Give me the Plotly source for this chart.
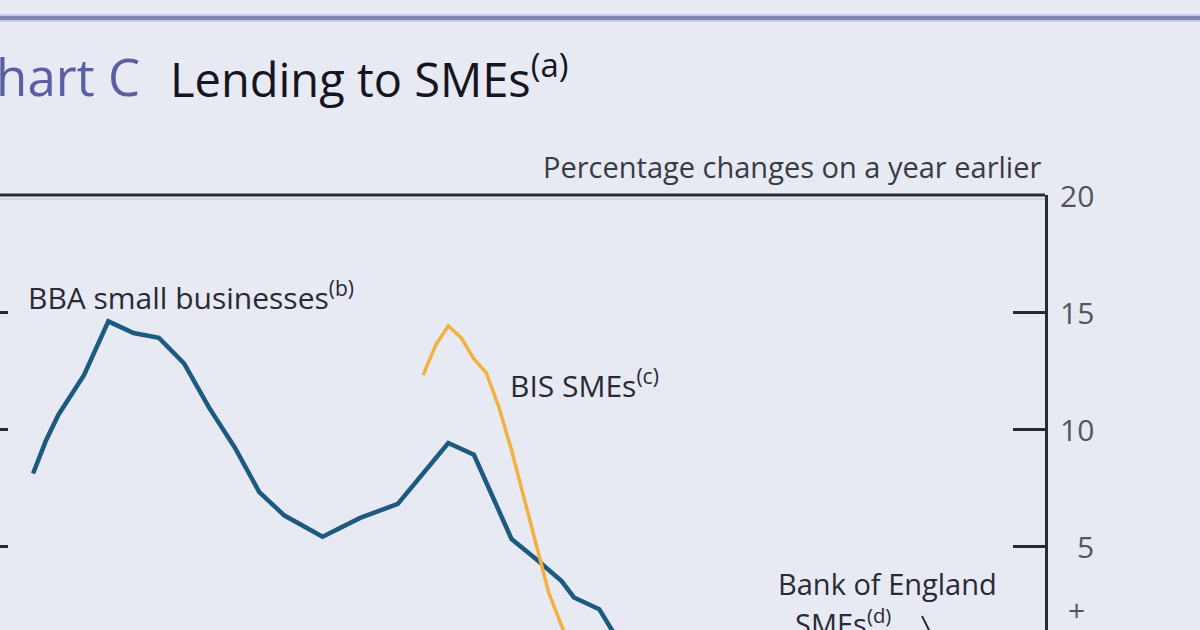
import plotly.graph_objects as go

# --- data (annual % change) ---
bba_dates = ["2005-10-01", "2005-11-01", "2005-12-01", "2006-02-01", "2006-04-01",
             "2006-06-01", "2006-08-01", "2006-10-01", "2006-12-01", "2007-02-01",
             "2007-04-01", "2007-06-01", "2007-09-01", "2007-12-01", "2008-03-01",
             "2008-07-01", "2008-09-01", "2008-12-01", "2009-02-01", "2009-04-01",
             "2009-05-01", "2009-07-01", "2009-08-01", "2009-10-01"]
bba_values = [8.1, 9.5, 10.6, 12.3, 14.6,
              14.1, 13.9, 12.8, 10.9, 9.2,
              7.3, 6.3, 5.4, 6.2, 6.8,
              9.4, 8.9, 5.3, 4.4, 3.5,
              2.8, 2.3, 1.4, 0.3]

bis_dates = ["2008-05-01", "2008-06-01", "2008-07-01", "2008-08-01", "2008-09-01",
             "2008-10-01", "2008-11-01", "2008-12-01", "2009-01-01", "2009-02-01",
             "2009-03-01", "2009-04-01", "2009-05-01"]
bis_values = [12.3, 13.6, 14.4, 13.9, 13.0,
              12.4, 10.9, 9.1, 7.0, 4.9,
              3.0, 1.6, 0.2]

y_ticks = [5, 10, 15, 20]
y_tick_labels = ["5", "10", "15", "20"]

BG = "#e7e9f3"
INK = "#2a2a36"
BLUE = "#1d5a80"
ORANGE = "#f2b13e"
FONT = "Open Sans"

# plot box in pixels: left 0, right 1045, top 195, bottom 630
W, H, TOP = 1045, 435, 195
Y_MAX = 20
Y_MIN = Y_MAX - H / 23.4


def px(x):
    return x / W


def py(y):
    return (TOP + H - y) / H


fig = go.Figure()

fig.add_trace(go.Scatter(x=bba_dates, y=bba_values, mode="lines",
                         line=dict(color=BLUE, width=4.5), showlegend=False))
fig.add_trace(go.Scatter(x=bis_dates, y=bis_values, mode="lines",
                         line=dict(color=ORANGE, width=3.5), showlegend=False))
# dummy trace so the left-hand axis gets drawn
fig.add_trace(go.Scatter(x=[None], y=[None], yaxis="y2", showlegend=False))

annotations = [
    dict(x=px(142), y=py(76), text="Chart C", xanchor="right",
         font=dict(size=51, color="#5b5ea4")),
    dict(x=px(168), y=py(76), text="Lending to SMEs<sup>(a)</sup>", xanchor="left",
         font=dict(size=47, color="#15151f")),
    dict(x=px(1043), y=py(167), text="Percentage changes on a year earlier",
         xanchor="right", font=dict(size=29, color="#3a3a46")),
    dict(x=px(26), y=py(296), text="BBA small businesses<sup>(b)</sup>",
         xanchor="left", font=dict(size=30, color=INK)),
    dict(x=px(508), y=py(384), text="BIS SMEs<sup>(c)</sup>",
         xanchor="left", font=dict(size=30, color=INK)),
    dict(x=px(776), y=py(583), text="Bank of England",
         xanchor="left", font=dict(size=29, color=INK)),
    dict(x=px(793), y=py(622), text="SMEs<sup>(d)</sup>",
         xanchor="left", font=dict(size=29, color=INK)),
    dict(x=px(1076), y=2.3, yref="y", text="+", xanchor="center",
         font=dict(size=30, color="#55555f")),
]
for v, t in zip(y_ticks, y_tick_labels):
    annotations.append(dict(x=px(1096), y=v, yref="y", text=t, xanchor="right",
                            font=dict(size=30, color="#55555f")))
for a in annotations:
    a.setdefault("xref", "paper")
    a.setdefault("yref", "paper")
    a["showarrow"] = False
    a["yanchor"] = "middle"

shapes = [
    # frame: top edge (right edge is the y axis line)
    dict(type="line", xref="paper", yref="paper", x0=0, x1=1, y0=1, y1=1,
         line=dict(color=INK, width=3)),
    dict(type="line", xref="paper", yref="paper", x0=0, x1=1, y0=py(199), y1=py(199),
         line=dict(color="#d0d3dc", width=2)),
    # band at the very top of the page
    dict(type="line", xref="paper", yref="paper", x0=px(-5), x1=px(1205),
         y0=py(18), y1=py(18), line=dict(color="#c9c9ee", width=8)),
    dict(type="line", xref="paper", yref="paper", x0=px(-5), x1=px(1205),
         y0=py(18), y1=py(18), line=dict(color="#8386b2", width=4)),
    # leader from the Bank of England label
    dict(type="line", xref="paper", yref="paper", x0=px(922), x1=px(934),
         y0=py(616), y1=py(640), line=dict(color=INK, width=2)),
]

fig.update_layout(
    width=1200, height=630,
    margin=dict(l=0, r=1200 - W, t=TOP, b=0),
    paper_bgcolor=BG, plot_bgcolor=BG,
    font=dict(family=FONT, color=INK),
    xaxis=dict(type="date", range=["2005-07-13", "2012-06-13"], visible=False),
    yaxis=dict(range=[Y_MIN, Y_MAX], side="right", tickvals=y_ticks,
               showticklabels=False, ticks="inside", ticklen=32, tickwidth=3,
               tickcolor=INK, showline=True, linecolor=INK, linewidth=3,
               showgrid=False, zeroline=False),
    yaxis2=dict(range=[Y_MIN, Y_MAX], overlaying="y", side="left",
                tickvals=y_ticks, showticklabels=False, ticks="inside",
                ticklen=8, tickwidth=3, tickcolor=INK, showline=False,
                showgrid=False, zeroline=False),
    annotations=annotations,
    shapes=shapes,
)

fig.write_html("out.html", config={"displayModeBar": False},
               post_script="document.body.style.margin='0';"
                           "document.body.style.background='%s';" % BG)
